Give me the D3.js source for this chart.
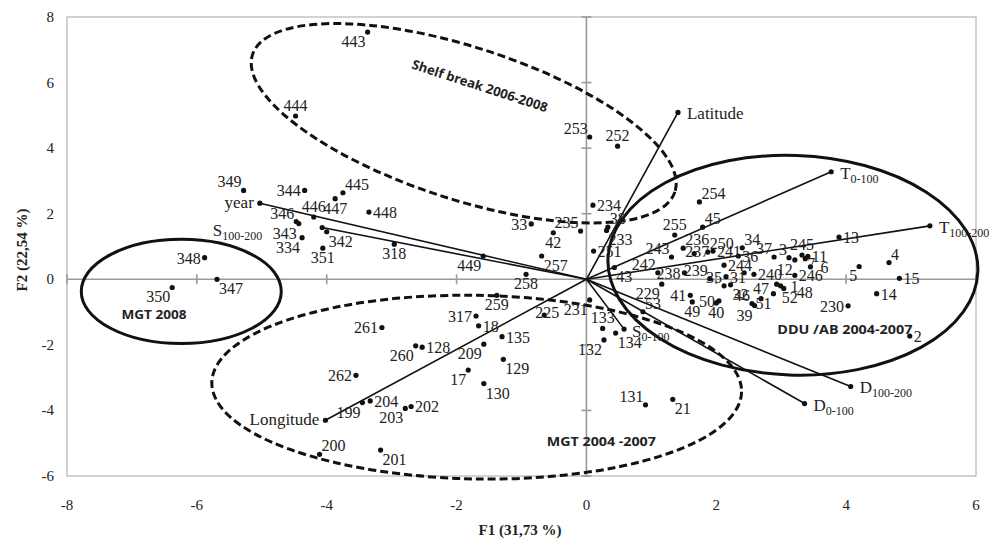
<!DOCTYPE html>
<html>
<head>
<meta charset="utf-8">
<script src="https://cdn.jsdelivr.net/npm/d3@7"></script>
<style>
  body { margin: 0; background: #fff; }
  text { font-family: "Liberation Serif", "Times New Roman", serif; fill: #222; }
  .grp { font-family: "Open Sans", "Noto Sans", sans-serif; font-weight: bold; fill: #222; }
</style>
</head>
<body>
<svg id="chart" width="991" height="540"></svg>
<script>
// axis ticks
const xTicks = [-8, -6, -4, -2, 0, 2, 4, 6];
const yTicks = [-6, -4, -2, 0, 2, 4, 6, 8];

// observations (F1, F2 scores)
const obsLabels = ["443","444","349","344","445","447","448","446","346","343","334","351","342","318","348","347","350",
  "261","262","199","204","200","201","203","202","260","128","317","18","135","209","129","17","130","259","258","225",
  "449","257","42","33","235","253","252","234","254","45","255","38","233","251","243","242","43","236","237","250",
  "241","34","36","244","37","3","12","245","11","7","6","246","5","4","15","14","230","2","13","240","31","","239",
  "238","229","35","32","41","49","50","40","46","39","47","51","52","1","48","53","231","133","132","134","131","21"];
const obsF1 = [-3.37,-4.48,-5.28,-4.34,-3.75,-3.87,-3.35,-4.20,-4.47,-4.43,-4.38,-4.06,-4.00,-2.96,-5.88,-5.69,-6.38,
  -3.15,-3.55,-3.45,-3.33,-4.11,-3.17,-2.79,-2.70,-2.63,-2.53,-1.70,-1.66,-1.30,-1.58,-1.28,-1.82,-1.58,-1.38,-0.93,-0.65,
  -1.59,-0.69,-0.51,-0.85,-0.09,0.05,0.48,0.10,1.74,1.79,1.36,0.33,0.31,0.11,1.31,1.10,0.43,1.49,1.66,1.87,
  1.95,2.40,2.34,2.12,2.89,3.12,3.21,3.32,3.41,3.37,3.45,3.21,4.20,4.66,4.82,4.47,4.03,4.98,3.89,2.58,2.15,2.43,1.90,
  1.51,1.16,2.12,2.22,1.60,1.63,2.04,2.00,2.55,2.59,2.69,2.88,2.93,2.99,3.04,0.87,0.05,0.25,0.27,0.45,0.91,1.33];
const obsF2 = [7.54,4.98,2.71,2.71,2.64,2.46,2.05,1.90,1.76,1.70,1.27,0.95,1.45,1.07,0.66,0.00,-0.25,
  -1.47,-2.93,-3.76,-3.71,-5.34,-5.21,-3.94,-3.88,-2.03,-2.07,-1.12,-1.42,-1.75,-1.98,-2.44,-2.77,-3.18,-0.49,0.15,-1.09,
  0.71,0.71,1.42,1.69,1.47,4.34,4.06,2.26,2.36,1.59,1.35,1.59,1.49,0.86,0.68,0.20,0.36,0.95,0.78,0.83,
  0.86,0.96,0.71,0.43,0.68,0.66,0.59,0.74,0.70,0.63,0.38,0.12,0.39,0.51,0.03,-0.44,-0.81,-1.73,1.29,0.15,0.08,0.20,0.02,
  0.20,-0.15,-0.20,-0.17,-0.49,-0.69,-0.66,-0.72,-0.74,-0.80,-0.59,-0.44,-0.15,-0.20,-0.28,-0.99,-0.63,-1.50,-1.85,-1.64,-3.83,-3.66];
// where each label sits around its point
const obsLabelSide = ["bl","a","al","l","ar","b","r","a","al","bl","bl","b","br","b","l","br","bl",
  "l","l","bl","r","ar","br","bl","r","bl","r","l","r","r","bl","br","bl","br","b","b","c",
  "bl","br","b","l","al","al","a","r","ar","ar","a","ar","br","r","al","al","br","ar","c","ar",
  "r","ar","r","r","al","al","bl","a","r","rd","rr","r","bl","ar","r","r","l","r","r","r","r","r","al",
  "l","bl","al","br","l","b","l","b","al","bl","a","bl","brr","rr","rb","ar","bl","a","bl","br","al","br"];

// variables (loadings drawn as vectors from origin)
const varMain = ["year", "S", "Longitude", "Latitude", "T", "T", "D", "D", "S"];
const varSub = ["", "100-200", "", "", "0-100", "100-200", "100-200", "0-100", "0-100"];
const varF1 = [-5.03, -4.07, -4.02, 1.41, 3.77, 5.29, 4.07, 3.36, 0.58];
const varF2 = [2.32, 1.58, -4.30, 5.09, 3.28, 1.63, -3.27, -3.79, -1.52];
const varLabelSide = ["l", "far", "l", "r", "r", "r", "r", "r", "sr"];

// groups (ellipses), centre and semi-axes in F1/F2 units
const groupNames = ["Shelf break 2006-2008", "DDU /AB 2004-2007", "MGT 2008", "MGT 2004 -2007"];
const groupCx = [-1.89, 3.18, -6.24, -1.69];
const groupCy = [4.76, 0.43, -0.37, -3.29];
const groupRx = [3.42, 2.85, 1.54, 4.08];
const groupRy = [2.32, 3.35, 1.59, 2.80];
const groupTilt = [18, 2, 0, 1];
const groupDashed = [true, false, false, true];
const groupTextF1 = [-1.64, 3.98, -6.66, 0.23];
const groupTextF2 = [5.91, -1.52, -1.07, -4.94];

const svg = d3.select("#chart");
const x = d3.scaleLinear().domain([-8, 6]).range([67, 976]);
const y = d3.scaleLinear().domain([-6, 8]).range([476, 17]);

// plot border
svg.append("rect")
  .attr("x", x(-8)).attr("y", y(8))
  .attr("width", x(6) - x(-8)).attr("height", y(-6) - y(8))
  .attr("fill", "none").attr("stroke", "#a6a6a6").attr("stroke-width", 1);

// zero lines with cross ticks
const axisG = svg.append("g").attr("stroke", "#9a9a9a").attr("stroke-width", 1.6);
axisG.append("line").attr("x1", x(-8)).attr("x2", x(6)).attr("y1", y(0)).attr("y2", y(0));
axisG.append("line").attr("x1", x(0)).attr("x2", x(0)).attr("y1", y(8)).attr("y2", y(-6));
axisG.selectAll(".xt").data(xTicks).enter().append("line")
  .attr("x1", d => x(d)).attr("x2", d => x(d)).attr("y1", y(0) - 5).attr("y2", y(0) + 5);
axisG.selectAll(".yt").data(yTicks).enter().append("line")
  .attr("x1", x(0) - 5).attr("x2", x(0) + 5).attr("y1", d => y(d)).attr("y2", d => y(d));

// tick labels
svg.selectAll(".xl").data(xTicks).enter().append("text")
  .attr("x", d => x(d)).attr("y", 510).attr("text-anchor", "middle")
  .attr("font-size", 15).text(d => d);
svg.selectAll(".yl").data(yTicks).enter().append("text")
  .attr("x", 54).attr("y", d => y(d) + 5).attr("text-anchor", "end")
  .attr("font-size", 15).text(d => d);

// axis titles
svg.append("text").attr("x", 520).attr("y", 535).attr("text-anchor", "middle")
  .attr("font-size", 15).attr("font-weight", "bold").text("F1 (31,73 %)");
svg.append("text").attr("transform", "translate(27,250) rotate(-90)").attr("text-anchor", "middle")
  .attr("font-size", 15).attr("font-weight", "bold").text("F2 (22,54 %)");

// group ellipses
const pxX = x(1) - x(0), pxY = y(0) - y(1);
groupNames.forEach((g, i) => {
  svg.append("ellipse")
    .attr("transform", `translate(${x(groupCx[i])},${y(groupCy[i])}) rotate(${groupTilt[i]})`)
    .attr("rx", groupRx[i] * pxX).attr("ry", groupRy[i] * pxY)
    .attr("fill", "none").attr("stroke", "#111").attr("stroke-width", 3)
    .attr("stroke-dasharray", groupDashed[i] ? "8,4" : null);
});

// variable vectors
const varData = varMain.map((m, i) => ({main: m, sub: varSub[i], f1: varF1[i], f2: varF2[i], side: varLabelSide[i]}));
svg.selectAll(".vec").data(varData).enter().append("line")
  .attr("x1", x(0)).attr("y1", y(0))
  .attr("x2", d => x(d.f1)).attr("y2", d => y(d.f2))
  .attr("stroke", "#111").attr("stroke-width", 1.6);
svg.selectAll(".vdot").data(varData).enter().append("circle")
  .attr("cx", d => x(d.f1)).attr("cy", d => y(d.f2)).attr("r", 2.6).attr("fill", "#111");

const varOff = {l: [-6, 5, "end"], r: [9, 7, "start"], far: [-60, 9, "end"], sr: [8, 8, "start"]};
const vText = svg.selectAll(".vlab").data(varData).enter().append("text")
  .attr("x", d => x(d.f1) + varOff[d.side][0])
  .attr("y", d => y(d.f2) + varOff[d.side][1])
  .attr("text-anchor", d => varOff[d.side][2])
  .attr("font-size", 17);
vText.append("tspan").text(d => d.main);
vText.append("tspan").attr("font-size", 12).attr("dy", 4).text(d => d.sub);

// observation points
const obsData = obsLabels.map((l, i) => ({label: l, f1: obsF1[i], f2: obsF2[i], side: obsLabelSide[i]}));
svg.selectAll(".pt").data(obsData).enter().append("circle")
  .attr("cx", d => x(d.f1)).attr("cy", d => y(d.f2)).attr("r", 2.6).attr("fill", "#111");

const off = {
  r: [4, 6, "start"], l: [-4, 6, "end"], a: [0, -5, "middle"], b: [0, 15, "middle"],
  ar: [2, -3, "start"], al: [-2, -3, "end"], br: [2, 15, "start"], bl: [-2, 15, "end"], c: [3, 3, "middle"],
  rr: [10, 6, "start"], rd: [2, 10, "start"], rb: [13, 10, "start"], brr: [5, 19, "start"]
};
svg.selectAll(".plab").data(obsData).enter().append("text")
  .attr("x", d => x(d.f1) + off[d.side][0])
  .attr("y", d => y(d.f2) + off[d.side][1])
  .attr("text-anchor", d => off[d.side][2])
  .attr("font-size", 16)
  .text(d => d.label);

// group labels
const grpLen = [142, 135, 65, 109];
groupNames.forEach((g, i) => {
  svg.append("text").attr("class", "grp")
    .attr("transform", `translate(${x(groupTextF1[i])},${y(groupTextF2[i])}) rotate(${i === 0 ? 18 : 0})`)
    .attr("text-anchor", "middle").attr("dy", 5)
    .attr("font-size", 13)
    .attr("textLength", grpLen[i]).attr("lengthAdjust", "spacingAndGlyphs")
    .text(g);
});
</script>
</body>
</html>
